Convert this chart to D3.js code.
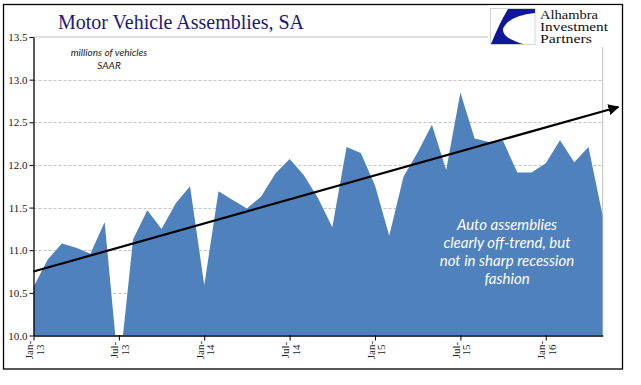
<!DOCTYPE html>
<html>
<head>
<meta charset="utf-8">
<script src="https://cdn.jsdelivr.net/npm/d3@7"></script>
<style>
  body { margin: 0; background: #fff; }
  svg { display: block; }
</style>
</head>
<body>
<div id="chart"></div>
<script>
// monthly values, Jan-13 .. May-16 (millions, SAAR)
const months = ["Jan-13","Feb-13","Mar-13","Apr-13","May-13","Jun-13","Jul-13","Aug-13","Sep-13","Oct-13","Nov-13","Dec-13",
  "Jan-14","Feb-14","Mar-14","Apr-14","May-14","Jun-14","Jul-14","Aug-14","Sep-14","Oct-14","Nov-14","Dec-14",
  "Jan-15","Feb-15","Mar-15","Apr-15","May-15","Jun-15","Jul-15","Aug-15","Sep-15","Oct-15","Nov-15","Dec-15",
  "Jan-16","Feb-16","Mar-16","Apr-16","May-16"];
const assemblies = [10.57, 10.89, 11.08, 11.03, 10.96, 11.33, 9.55, 11.13, 11.47, 11.25, 11.55, 11.75,
  10.59, 11.69, 11.59, 11.49, 11.63, 11.90, 12.07, 11.88, 11.61, 11.27, 12.21, 12.14,
  11.76, 11.17, 11.86, 12.15, 12.47, 11.94, 12.85, 12.31, 12.27, 12.28, 11.91, 11.91,
  12.02, 12.29, 12.03, 12.21, 11.40];
const yTicks = [10.0, 10.5, 11.0, 11.5, 12.0, 12.5, 13.0, 13.5];
const xTickLabels = [["Jan-","13"],["Jul-","13"],["Jan-","14"],["Jul-","14"],["Jan-","15"],["Jul-","15"],["Jan-","16"]];
const xTickIdx = [0, 6, 12, 18, 24, 30, 36];
// hand drawn trend arrow (month index, value)
const trend = [[0, 10.75], [41.1, 12.68]];
const noteLines = ["Auto assemblies", "clearly off-trend, but", "not in sharp recession", "fashion"];

const W = 641, H = 385;
const plotL = 33.5, plotR = 602.7, plotT = 37, plotB = 335.5;

const svg = d3.select("#chart").append("svg").attr("width", W).attr("height", H);

const x = d3.scaleLinear().domain([0, months.length - 1]).range([plotL, plotR]);
const y = d3.scaleLinear().domain([10, 13.5]).range([plotB, plotT]);

// outer frame
svg.append("rect").attr("x", 3.5).attr("y", 4.5).attr("width", 619).attr("height", 364.5)
  .attr("fill", "none").attr("stroke", "#000").attr("stroke-width", 1.3);

// title
svg.append("text").attr("x", 58).attr("y", 29).text("Motor Vehicle Assemblies, SA")
  .attr("textLength", 246).attr("lengthAdjust", "spacingAndGlyphs")
  .style("font-family", "'Liberation Serif', 'Times New Roman', serif").style("font-size", "21.5px")
  .style("fill", "#1a1a7a");

// gridlines
svg.append("g").selectAll("line").data(yTicks.filter(d => d > 10 && d < 13.5)).join("line")
  .attr("x1", plotL).attr("x2", plotR).attr("y1", d => Math.round(y(d)) + 0.5).attr("y2", d => Math.round(y(d)) + 0.5)
  .attr("stroke", "#b4b4b4").attr("stroke-width", 0.8).attr("stroke-dasharray", "3,2");

// plot border top/right
svg.append("path").attr("d", `M${plotL},${plotT}H${plotR}V${plotB}`)
  .attr("fill", "none").attr("stroke", "#bdbdbd").attr("stroke-width", 1);

svg.append("clipPath").attr("id", "clip").append("rect")
  .attr("x", plotL).attr("y", plotT).attr("width", plotR - plotL).attr("height", plotB - plotT);

const area = d3.area().x((d, i) => x(i)).y0(plotB).y1(d => y(d));
svg.append("path").datum(assemblies).attr("clip-path", "url(#clip)")
  .attr("d", area).attr("fill", "#4f81bd");

// y axis
const yAxis = svg.append("g").attr("transform", `translate(${plotL},0)`)
  .call(d3.axisLeft(y).tickValues(yTicks).tickFormat(d3.format(".1f")).tickSize(4).tickSizeOuter(0));
yAxis.select(".domain").attr("stroke", "#000").attr("stroke-width", 1.3);
yAxis.selectAll(".tick line").attr("stroke", "#000");
yAxis.selectAll(".tick text").attr("x", -6)
  .style("font-family", "'Liberation Serif', 'Times New Roman', serif").style("font-size", "11px").style("fill", "#222");

// x axis
const xAxis = svg.append("g").attr("transform", `translate(0,${plotB})`)
  .call(d3.axisBottom(x).tickValues(xTickIdx).tickFormat("").tickSize(5).tickSizeOuter(0));
xAxis.select(".domain").attr("stroke", "#000").attr("stroke-width", 1.3);
xAxis.selectAll(".tick line").attr("stroke", "#000");

const xl = svg.append("g").selectAll("g").data(xTickIdx).join("g")
  .attr("transform", d => `translate(${x(d)},350) rotate(-90)`);
xl.append("text").attr("text-anchor", "middle").attr("y", -0.5).text((d, i) => xTickLabels[i][0])
  .style("font-family", "'Liberation Serif', 'Times New Roman', serif").style("font-size", "11px").style("fill", "#222");
xl.append("text").attr("text-anchor", "middle").attr("y", 10).text((d, i) => xTickLabels[i][1])
  .style("font-family", "'Liberation Serif', 'Times New Roman', serif").style("font-size", "11px").style("fill", "#222");

// trend arrow
svg.append("defs").append("marker").attr("id", "arrow").attr("viewBox", "0 0 10 10")
  .attr("refX", 9).attr("refY", 5).attr("markerWidth", 5).attr("markerHeight", 5).attr("orient", "auto")
  .append("path").attr("d", "M0,0L10,5L0,10Z").attr("fill", "#000");
svg.append("line").attr("x1", x(trend[0][0])).attr("y1", y(trend[0][1]))
  .attr("x2", x(trend[1][0])).attr("y2", y(trend[1][1]))
  .attr("stroke", "#000").attr("stroke-width", 2.2).attr("marker-end", "url(#arrow)");

// units note
const unitG = svg.append("g").style("font-family", "Lato, 'Open Sans', sans-serif").style("font-style", "italic")
  .style("font-size", "10px").style("fill", "#222").attr("text-anchor", "middle");
unitG.append("text").attr("x", 109).attr("y", 56).text("millions of vehicles");
unitG.append("text").attr("x", 109).attr("y", 69).text("SAAR");

// annotation
svg.append("g").selectAll("text").data(noteLines).join("text")
  .attr("x", 507).attr("y", (d, i) => 230 + i * 18).attr("text-anchor", "middle").text(d => d)
  .style("font-family", "Lato, 'Open Sans', sans-serif").style("font-style", "italic")
  .style("font-size", "15px").style("fill", "#fff");

// logo
const logo = svg.append("g");
logo.append("rect").attr("x", 488).attr("y", 5.5).attr("width", 133).attr("height", 41.5).attr("fill", "#fff");
logo.append("rect").attr("x", 490.5).attr("y", 8.5).attr("width", 44.5).attr("height", 36)
  .attr("fill", "#fff").attr("stroke", "#c8c8c8").attr("stroke-width", 0.8);
logo.append("path").attr("d", "M508,9 L535,9 L535,13 Q508,16 503,29 Q502,38 523,44 L491,44 Q499,24 508,9 Z")
  .attr("fill", "#10189a");
const logoText = logo.append("g").style("font-family", "'Liberation Serif', 'Times New Roman', serif")
  .style("font-size", "12px").style("fill", "#111");
[["Alhambra", 58], ["Investment", 68], ["Partners", 52]].forEach((t, i) => {
  logoText.append("text").attr("x", 540).attr("y", 18.5 + i * 12).text(t[0])
    .attr("textLength", t[1]).attr("lengthAdjust", "spacingAndGlyphs");
});
</script>
</body>
</html>
